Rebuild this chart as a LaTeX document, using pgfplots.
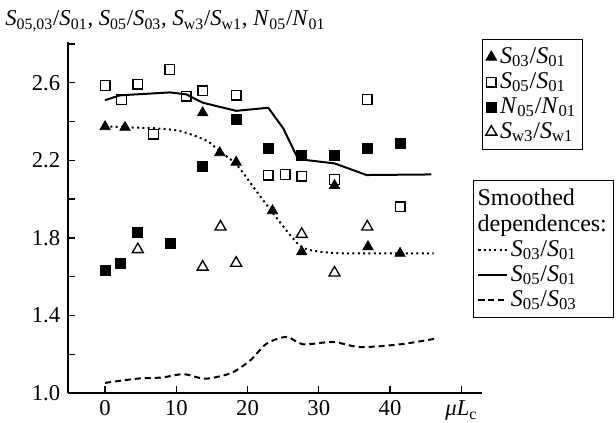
\documentclass[border=0pt]{standalone}
\usepackage{fontspec}
\setmainfont{Liberation Serif}
\usepackage{pgfplots}
\pgfplotsset{compat=1.18}

% ratio symbols: italic letter, upright subscript
\newcommand{\rt}[4]{\textit{#1}\textsubscript{#2}/\textit{#3}\textsubscript{#4}}
\newcommand{\fs}{\fontsize{13.6}{15.5}\selectfont}
\newcommand{\lfs}{\fontsize{14.4}{16}\selectfont}

\pgfplotsset{
  common/.style={
    scale only axis,
    width=248.4pt, height=210.6pt,
    xmin=-5.2, xmax=52.9,
    ymin=1.0, ymax=2.81,
  },
}

\begin{document}
\fs
\begin{tikzpicture}
  % points
  \begin{axis}[
      common,
      axis x line*=bottom, axis y line*=left,
      axis line style={line width=0.8pt},
      tick style={line width=0.8pt, black},
      tick align=inside,
      major tick length=4.2pt, minor tick length=4.2pt,
      xtick={0,10,20,30,40,50},
      xticklabels={0,10,20,30,40,{\textit{μL}\textsubscript{c}}},
      ytick={1.0,1.4,1.8,2.2,2.6},
      minor ytick={1.2,1.6,2.0,2.4,2.8},
      yticklabel style={/pgf/number format/.cd, fixed, fixed zerofill, precision=1},
      /pgf/number format/assume math mode=true,
      ticklabel style={font=\fs},
      legend style={
        at={(rel axis cs:1,1)}, anchor=north west, yshift=2pt,
        draw=black, line width=0.6pt,
        font=\lfs,
        row sep=-0.6pt, inner xsep=2pt, inner ysep=3pt,
      },
      legend cell align=left,
    ]
    \addplot[only marks, mark=triangle*, mark size=3.6pt, black] coordinates {
      (0,2.373) (2.8,2.37) (13.7,2.445) (16.1,2.239) (18.4,2.19)
      (23.5,1.94) (27.6,1.728) (32.2,2.07) (36.9,1.754) (41.4,1.72)
    };
    \addlegendentry{\rt{S}{03}{S}{01}}
    \addplot[only marks, mark=square, mark size=2.9pt, black,
      mark options={line width=0.8pt, fill=white}] coordinates {
      (0,2.585) (2.3,2.514) (4.6,2.593) (6.8,2.335) (9.1,2.669) (11.4,2.531)
      (13.7,2.559) (18.4,2.536) (22.9,2.124) (25.3,2.127) (27.6,2.118)
      (32.2,2.101) (36.8,2.514) (41.4,1.96)
    };
    \addlegendentry{\rt{S}{05}{S}{01}}
    \addplot[only marks, mark=square*, mark size=3pt, black] coordinates {
      (0,1.63) (2.2,1.668) (4.6,1.831) (9.1,1.774) (13.7,2.17) (18.4,2.411)
      (22.9,2.261) (27.6,2.223) (32.2,2.223) (36.8,2.261) (41.4,2.29)
    };
    \addlegendentry{\rt{N}{05}{N}{01}}
    \addplot[only marks, mark=triangle, mark size=3.8pt, black,
      mark options={line width=0.8pt}] coordinates {
      (4.6,1.74) (13.7,1.65) (16.2,1.857) (18.4,1.67) (27.6,1.819)
      (32.2,1.62) (36.8,1.857)
    };
    \addlegendentry{\rt{S}{w3}{S}{w1}}
  \end{axis}

  % smoothed curves
  \begin{axis}[
      common, hide axis,
      legend style={
        at={(rel axis cs:1.319,0.607)}, anchor=north east,
        draw=black, line width=0.6pt,
        font=\lfs,
        row sep=-0.6pt, inner xsep=2pt, inner ysep=3pt,
      },
      legend cell align=left,
    ]
    \addlegendimage{empty legend}
    \addlegendentry{\hspace{-20pt}Smoothed}
    \addlegendimage{empty legend}
    \addlegendentry{\hspace{-20pt}dependences:}
    \addplot[black, line width=1.2pt, dotted, smooth] coordinates {
      (0,2.375) (3,2.37) (7,2.365) (10.6,2.35) (14.3,2.30) (16.1,2.245)
      (18.4,2.18) (20.8,2.063) (23.5,1.93) (26.2,1.805) (28,1.745)
      (32,1.722) (38,1.72) (46.1,1.72)
    };
    \addlegendentry{\rt{S}{03}{S}{01}}
    \addplot[black, line width=1.2pt] coordinates {
      (0,2.51) (2.1,2.535) (9.1,2.55) (11.4,2.54) (13.7,2.497) (18.4,2.455)
      (22.9,2.471) (25,2.365) (27.1,2.206) (32.2,2.184) (36.7,2.124)
      (45.8,2.127)
    };
    \addlegendentry{\rt{S}{05}{S}{01}}
    \addplot[black, line width=1.2pt, dash pattern=on 3.6pt off 2.4pt, smooth] coordinates {
      (0,1.052) (4.5,1.074) (8,1.08) (11,1.097) (13.8,1.074) (16,1.085)
      (18,1.108) (20.4,1.169) (22.7,1.255) (25.5,1.289) (27.8,1.251)
      (32,1.263) (35.8,1.237) (41.4,1.251) (46.5,1.281)
    };
    \addlegendentry{\rt{S}{05}{S}{03}}
  \end{axis}

  \node[anchor=base west, inner sep=0pt] at (-37.8pt,220.2pt)
    {\textit{S}\textsubscript{05,03}/\textit{S}\textsubscript{01}, \rt{S}{05}{S}{03}, \rt{S}{w3}{S}{w1}, \rt{N}{05}{N}{01}};

  \pgfresetboundingbox
  \useasboundingbox (-40.8pt,-18pt) rectangle (328.8pt,235.8pt);
\end{tikzpicture}
\end{document}
